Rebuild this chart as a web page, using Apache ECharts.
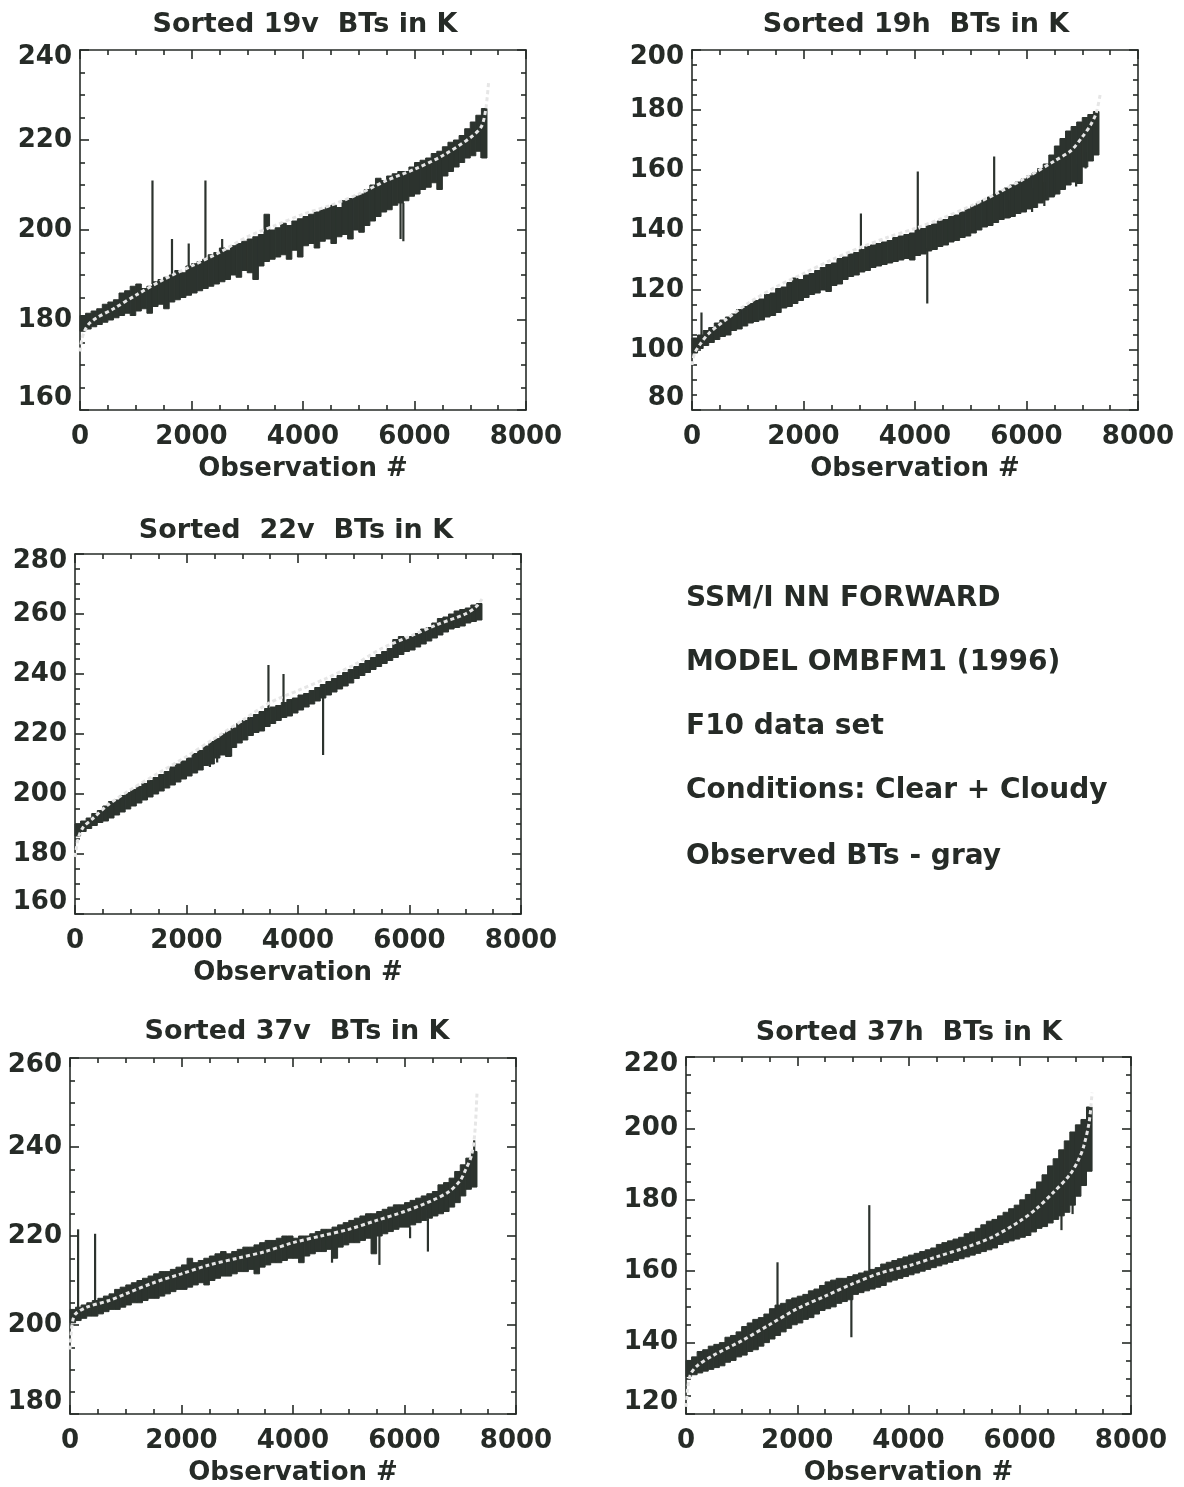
<!DOCTYPE html>
<html>
<head>
<meta charset="utf-8">
<script src="https://cdn.jsdelivr.net/npm/echarts@6/dist/echarts.min.js"></script>
<style>
  html, body { margin: 0; padding: 0; background: #ffffff; }
  #chart { width: 1184px; height: 1487px; }
</style>
</head>
<body>
<div id="chart"></div>
<script>
// ---------------- DATA ----------------
const xTicks = [0, 2000, 4000, 6000, 8000];

// NN output sampled every 100 observations: sample start positions
const nnObs = [0,100,200,300,400,500,600,700,800,900,1000,1100,1200,1300,1400,1500,1600,1700,1800,1900,
  2000,2100,2200,2300,2400,2500,2600,2700,2800,2900,3000,3100,3200,3300,3400,3500,3600,3700,3800,3900,
  4000,4100,4200,4300,4400,4500,4600,4700,4800,4900,5000,5100,5200,5300,5400,5500,5600,5700,5800,5900,
  6000,6100,6200,6300,6400,6500,6600,6700,6800,6900,7000,7100,7200];

// ---- 19v ----
const obs19vX = [0, 30, 80, 150, 300, 600, 1000, 1500, 2000, 2500, 3000, 3500, 4000, 4500, 5000, 5500, 6000, 6500, 7000, 7200, 7280, 7330];
const obs19vY = [173, 175.5, 177.5, 179, 180.5, 182.5, 185.5, 189, 192, 195, 198.5, 201, 203.5, 205.5, 208, 211, 213.5, 216.5, 220.5, 223, 227, 233];
const nn19vLo = [177.5,178,178.5,179,179.5,180,180.5,181,181.5,181,182,182.5,181.5,183,183.5,182.5,184,184.5,185,185.5,
  186,186.5,187,187.5,188,188.5,189,190,189.5,191,190.5,189,192,193,193.5,194,194.5,193.5,195.5,194,
  196.5,197,196,197.5,198,197,198.5,199,198,200,199.5,201,202,203,204,204.5,205.5,206,206.5,207.5,
  208,209,209.5,210.5,209,212,213,214,215,216,216.5,217.5,216];
const nn19vHi = [181,181.5,182,182.5,183.5,184,184.5,186,186.5,187.5,188,187,187.5,188.5,189,189.5,190,191,190.5,192,
  192.5,193,193.5,194.5,195,196,195.5,196.5,197,197.5,198,198.5,199,203.5,200,200.5,201.5,201,202,202.5,
  203,203.5,204,204.5,205,205.5,205,206.5,207,207.5,208,209,210,211.5,211,212,212.5,213,213,214,
  215,215.5,216,217,217.5,218.5,219.5,220,221,222.5,224,225.5,227];
const spikes19v = [[1300,188,211],[1650,190,198],[1950,191,197],[2250,193,211],[2550,195,198],
  [5750,206,198],[5800,206,197.5],[7200,219,216]];

// ---- 19h ----
const obs19hX = [0, 50, 150, 300, 600, 1000, 1500, 2000, 2500, 3000, 3500, 4000, 4500, 5000, 5500, 6000, 6500, 6800, 7000, 7150, 7250, 7320];
const obs19hY = [95, 99, 102, 105.5, 110, 115.5, 121, 125.5, 130, 134, 137.5, 140.5, 144, 148, 152.5, 157.5, 163, 166.5, 171, 175, 179, 185];
const nn19hLo = [99,100.5,101.5,102.5,103.5,104.5,105,106.5,107,108,109,109.5,110,111,111.5,112.5,114,114.5,115.5,116.5,
  117.5,118.5,119,120,119.5,121.5,122,123.5,124.5,125,126,126.5,127.5,128,128.5,129,129.5,130,130.5,130,
  131.5,132,133,133.5,134.5,135,136,136.5,137.5,138,139,140,141,141.5,142.5,143.5,144,144.5,145.5,146,
  147,147.5,149,150,151,152,153.5,155,156,155.5,161,163,165];
const nn19hHi = [104,105,106.5,107.5,109,110,111,112,113.5,114.5,115.5,116.5,117,118.5,119,120.5,121,122.5,124,123.5,
  125,125.5,126.5,127.5,128.5,129,130.5,131,132,132.5,133.5,134.5,135,135.5,136,136.5,137.5,138,138.5,139,
  140,140.5,141.5,142,143,143.5,144.5,145,146,147,148,149,150,151,152,153,154,155,156,157,
  158,159,160.5,162,165,168,170.5,173,174.5,176,177.5,178.5,179.5];
const spikes19h = [[170,104,112.5],[3030,133,145.5],[4050,139,159.5],[4220,134,115.5],[5420,150,164.5],
  [5700,150,144],[6100,154,146],[6320,156,148],[6500,160,151.5],[6890,162,154.5],[7060,166,160.5]];

// ---- 22v ----
const obs22vX = [0, 30, 70, 150, 300, 600, 1000, 1500, 2000, 2500, 3000, 3500, 4000, 4500, 5000, 5500, 6000, 6500, 7000, 7200, 7300];
const obs22vY = [179, 182.5, 186, 189, 191.5, 196.5, 201.5, 207, 212.5, 218.5, 224.5, 230.5, 234.5, 238.5, 243, 248.5, 252.5, 256.5, 260, 262.5, 265];
const nn22vLo = [186,187.5,188.5,189.5,190.5,191,192,193,194,195,196,197,198,199,200,201,202,203,204,205,
  206,207,208,209.5,210,212,213,212.5,215.5,217,218,219.5,220.5,221,222.5,223.5,224.5,225.5,226,227,
  228,229,230,231,232,233,234,235,236,237,238.5,239.5,240.5,241.5,242.5,243.5,244.5,245.5,246.5,247.5,
  248,249,250,251,252,253,254,255,255.5,256,257,257.5,258];
const nn22vHi = [190,191,192,193.5,194.5,196,197.5,198,199.5,200.5,201.5,202.5,203.5,204.5,205.5,206.5,207.5,209,210,211,
  212,213.5,214.5,216,217.5,218.5,220,221,222,223.5,224.5,225.5,226.5,227.5,228.5,229,229.5,230.5,231.5,232,
  233,233.5,234.5,235.5,236.5,237.5,238.5,239.5,240.5,241.5,242.5,243.5,244.5,245.5,246.5,247.5,248.5,251.5,252.5,252,
  252.5,253.5,255,255.5,257,258.5,259,260,261,261.5,262,263,263.5];
const spikes22v = [[3470,227,243],[3740,229,240],[4450,233,213],[2420,214,209],[2550,215,210.5],[2800,216,212.5]];

// ---- 37v ----
const obs37vX = [0, 20, 50, 100, 300, 700, 1000, 1500, 2000, 2500, 3000, 3500, 4000, 4500, 5000, 5500, 6000, 6500, 6800, 7000, 7100, 7200, 7260, 7300];
const obs37vY = [194.5, 198, 201, 202.5, 204, 205.5, 207, 209.5, 211.5, 213.5, 215, 216.5, 218.5, 220, 221.5, 223.5, 225.5, 228, 230, 232.5, 235, 238, 243, 252];
const nn37vLo = [200.5,201,201.5,202,202,202.5,203,203.5,203.5,204,204.5,205,205,205.5,206,206,206.5,207,207.5,208,
  208,208.5,209,209.5,209,210,210.5,211,211,211.5,212,212,212.5,211.5,213,213.5,214,214,214.5,215,
  215,214,215.5,216,216.5,216.5,217,215,217.5,218,218.5,218.5,219,219.5,216,220,220.5,221,221.5,222,
  222,222.5,223,223.5,224,224.5,225,225.5,226.5,227.5,229,230.5,231];
const nn37vHi = [203.5,204,204.5,205,205.5,206,206.5,207,208,208.5,209,209.5,210,210.5,211,211.5,212,212,212.5,213,
  213.5,215,214,214.5,215,215.5,216,216.5,216,216.5,217,217.5,217.5,218,218.5,219,219,219.5,220,220,
  219.5,220,220,220.5,221,221.5,221.5,222,222.5,223,223.5,224,224.5,225,225,225.5,226,226.5,227,227,
  227.5,228,228.5,229,229.5,230,231.5,232,233,234.5,236,237.5,239];
const spikes37v = [[145,203,221.5],[450,204,220.5],[6420,224,216.5],[7250,231,241.5],
  [5550,220,213.5],[4700,217,214],[6100,222,219.5]];

// ---- 37h ----
const obs37hX = [0, 30, 80, 200, 500, 1000, 1500, 2000, 2500, 3000, 3500, 4000, 4500, 5000, 5500, 6000, 6300, 6600, 6900, 7050, 7150, 7250, 7300];
const obs37hY = [122, 127, 131, 133.5, 136.5, 140.5, 145, 149.5, 153, 156.5, 159.5, 161.5, 164, 166.5, 169.5, 174, 177.5, 182, 187, 191, 195, 202, 210];
const nn37hLo = [130.5,131,131.5,132,132.5,133,133.5,134.5,135,136,136.5,137.5,138,139,140,141,142,143,144,145,
  145.5,146.5,147,148,149,149.5,150,151,151.5,152,153.5,154,154.5,155,155.5,156,157,157.5,158,158.5,
  159,159.5,160,160.5,161,161.5,162,162.5,163,163.5,164,164.5,165,165.5,166,166.5,167.5,168,168.5,169,
  169.5,170,171,172,172.5,173.5,174.5,175.5,176.5,178.5,181,184,188];
const nn37hHi = [135,136,137.5,138,139,139.5,140,141.5,142,143,144.5,145.5,146.5,147,148,149.5,150.5,151,152,152.5,
  153,153.5,154.5,155,156,157,157.5,158,158,158.5,159,159.5,160,160.5,161,162,162.5,163,163.5,164,
  164.5,165,165.5,166,166.5,167.5,168,168.5,169,169.5,170.5,171,172,173,174,174.5,175.5,176.5,177.5,178.5,
  180,181.5,183,185,187,189.5,191.5,194,196.5,199,201,202.5,206];
const spikes37h = [[1645,150,162.5],[3295,160,178.5],[2973,156,141.5],[6750,178,171.5],[6950,181,176]];

const infoLines = ['SSM/I NN FORWARD', 'MODEL OMBFM1 (1996)', 'F10 data set', 'Conditions: Clear + Cloudy', 'Observed BTs - gray'];

// ---------------- LAYOUT / STYLE ----------------
const NN_STEP = 100;
const TXT = '#262b27';
const DARK = '#2c332e';
const FONT = '"DejaVu Sans", "Liberation Sans", sans-serif';

const panels = [
  { title: 'Sorted 19v  BTs in K', tx: 305, ty: 25, grid: { left: 80, top: 50, width: 446, height: 360 },
    ymin: 160, ymax: 240, obsX: obs19vX, obsY: obs19vY, lo: nn19vLo, hi: nn19vHi, spikes: spikes19v },
  { title: 'Sorted 19h  BTs in K', tx: 916, ty: 25, grid: { left: 692, top: 50, width: 446, height: 360 },
    ymin: 80, ymax: 200, obsX: obs19hX, obsY: obs19hY, lo: nn19hLo, hi: nn19hHi, spikes: spikes19h },
  { title: 'Sorted  22v  BTs in K', tx: 296, ty: 531, grid: { left: 75, top: 554, width: 446, height: 360 },
    ymin: 160, ymax: 280, obsX: obs22vX, obsY: obs22vY, lo: nn22vLo, hi: nn22vHi, spikes: spikes22v },
  { title: 'Sorted 37v  BTs in K', tx: 297, ty: 1032, grid: { left: 70, top: 1058, width: 446, height: 356 },
    ymin: 180, ymax: 260, obsX: obs37vX, obsY: obs37vY, lo: nn37vLo, hi: nn37vHi, spikes: spikes37v },
  { title: 'Sorted 37h  BTs in K', tx: 909, ty: 1033, grid: { left: 686, top: 1057, width: 445, height: 358 },
    ymin: 120, ymax: 220, obsX: obs37hX, obsY: obs37hY, lo: nn37hLo, hi: nn37hHi, spikes: spikes37h }
];

const labelFont = { fontSize: 26, fontWeight: 'bold', fontFamily: FONT, color: TXT };
const lineStyle = { color: TXT, width: 1.6 };

const grid = [], xAxis = [], yAxis = [], series = [], graphic = [];

panels.forEach((p, i) => {
  grid.push(Object.assign({ containLabel: false }, p.grid));
  const common = { gridIndex: i, type: 'value', splitLine: { show: false }, axisLine: { show: true, onZero: false, lineStyle } };
  // bottom x
  xAxis.push(Object.assign({}, common, {
    position: 'bottom', min: 0, max: 8000, interval: 2000,
    name: 'Observation #', nameLocation: 'middle', nameGap: 46,
    nameTextStyle: Object.assign({}, labelFont),
    axisTick: { show: true, inside: true, length: 9, lineStyle },
    minorTick: { show: true, splitNumber: 4, length: 5, lineStyle },
    axisLabel: Object.assign({ show: true, margin: 14, showMinLabel: true, showMaxLabel: true,
      formatter: v => String(v) }, labelFont)
  }));
  // top x (mirror)
  xAxis.push(Object.assign({}, common, {
    position: 'top', min: 0, max: 8000, interval: 2000,
    axisTick: { show: true, inside: true, length: 9, lineStyle },
    minorTick: { show: true, splitNumber: 4, length: 5, lineStyle },
    axisLabel: { show: false }
  }));
  const ymin = p.ymin, ymax = p.ymax;
  const rich = {
    n: Object.assign({}, labelFont),
    mx: Object.assign({ padding: [14, 0, 0, 0] }, labelFont),
    mn: Object.assign({ padding: [0, 0, 24, 0] }, labelFont)
  };
  yAxis.push(Object.assign({}, common, {
    position: 'left', min: ymin, max: ymax, interval: 20,
    axisTick: { show: true, inside: true, length: 9, lineStyle },
    minorTick: { show: true, splitNumber: 4, length: 5, lineStyle },
    axisLabel: Object.assign({ show: true, margin: 8, showMinLabel: true, showMaxLabel: true,
      formatter: v => v === ymax ? '{mx|' + v + '}' : (v === ymin ? '{mn|' + v + '}' : '{n|' + v + '}'),
      rich }, labelFont)
  }));
  yAxis.push(Object.assign({}, common, {
    position: 'right', min: ymin, max: ymax, interval: 20,
    axisTick: { show: true, inside: true, length: 9, lineStyle },
    minorTick: { show: true, splitNumber: 4, length: 5, lineStyle },
    axisLabel: { show: false }
  }));

  const xi = 2 * i, yi = 2 * i;
  // NN output band (vertical strokes every 100 observations)
  series.push({
    type: 'custom', xAxisIndex: xi, yAxisIndex: yi, z: 2, silent: true,
    encode: { x: 0, y: [1, 2] },
    data: nnObs.map((x, k) => [x, p.lo[k], p.hi[k]]),
    renderItem: (params, api) => {
      const x = api.value(0), lo = api.value(1), hi = api.value(2);
      const a = api.coord([x, hi]);
      const b = api.coord([x + NN_STEP, lo]);
      return { type: 'rect', shape: { x: a[0], y: a[1], width: b[0] - a[0], height: b[1] - a[1] },
        style: { fill: DARK, stroke: DARK, lineWidth: 1 } };
    }
  });
  // isolated spikes
  series.push({
    type: 'custom', xAxisIndex: xi, yAxisIndex: yi, z: 3, silent: true,
    encode: { x: 0, y: [1, 2] },
    data: p.spikes,
    renderItem: (params, api) => {
      const a = api.coord([api.value(0), api.value(1)]);
      const b = api.coord([api.value(0), api.value(2)]);
      return { type: 'line', shape: { x1: a[0], y1: a[1], x2: b[0], y2: b[1] },
        style: { stroke: DARK, lineWidth: 2.2 } };
    }
  });
  // observed BTs (gray dotted)
  series.push({
    type: 'line', xAxisIndex: xi, yAxisIndex: yi, z: 4, silent: true,
    data: p.obsX.map((x, k) => [x, p.obsY[k]]),
    showSymbol: false, smooth: 0.3,
    lineStyle: { color: '#e6e6e6', width: 3, type: [4, 3] }
  });

  graphic.push({
    type: 'text', x: p.tx, y: p.ty,
    style: { text: p.title, font: 'bold 27px ' + FONT, fill: TXT,
      textAlign: 'center', textVerticalAlign: 'middle', align: 'center', verticalAlign: 'middle' }
  });
});

const infoY = [599, 663, 727, 791, 857];
infoLines.forEach((t, k) => {
  graphic.push({
    type: 'text', x: 686, y: infoY[k],
    style: { text: t, font: 'bold 28px ' + FONT, fill: TXT,
      textAlign: 'left', textVerticalAlign: 'middle', align: 'left', verticalAlign: 'middle' }
  });
});

const chart = echarts.init(document.getElementById('chart'), null, { renderer: 'canvas' });
chart.setOption({
  backgroundColor: '#ffffff',
  animation: false,
  grid, xAxis, yAxis, series, graphic
});
</script>
</body>
</html>
